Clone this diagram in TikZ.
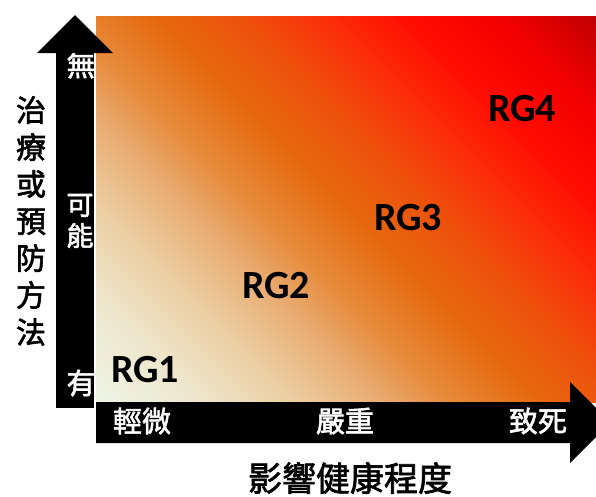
\documentclass[tikz,border=0pt]{standalone}
\usepackage{fontspec}
\setmainfont{Carlito}
\newfontfamily\cjk[FakeBold=2]{Noto Sans CJK TC}
\definecolor{g0}{HTML}{EEF4E6}
\definecolor{g1}{HTML}{EEE6CC}
\definecolor{g2}{HTML}{ECCFA4}
\definecolor{g3}{HTML}{E9AC72}
\definecolor{g4}{HTML}{E68A3A}
\definecolor{g5}{HTML}{E6680E}
\definecolor{g6}{HTML}{EE500C}
\definecolor{g7}{HTML}{FC2A08}
\definecolor{g8}{HTML}{FF0A00}
\definecolor{g9}{HTML}{F00000}
\definecolor{g10}{HTML}{C00000}
\pgfdeclarehorizontalshading{rgshade}{100bp}{color(0bp)=(g0); color(14.6bp)=(g0); color(23.1bp)=(g1); color(30.2bp)=(g2); color(37.3bp)=(g3); color(42.9bp)=(g4); color(50bp)=(g5); color(57.1bp)=(g6); color(64.2bp)=(g7); color(71.2bp)=(g8); color(78.3bp)=(g9); color(85.4bp)=(g10); color(100bp)=(g10)}
\tikzset{
  rg/.style={font=\bfseries\fontsize{40}{40}\selectfont, inner sep=0pt, text=black},
  axtxt/.style={font=\cjk\fontsize{29}{29}\selectfont, inner sep=0pt, text=white},
  axtitle/.style={font=\cjk\fontsize{34}{34}\selectfont, inner sep=0pt, text=black},
}
\begin{document}
\begin{tikzpicture}[x=1pt,y=-1pt]
\useasboundingbox (0,0) rectangle (596,496);
\clip (0,0) rectangle (596,496);
% vertical shaft and its texts
\fill[black] (56,53) rectangle (94,408);
\node[axtxt] (wu) at (81,65) {無};
\node[axtxt, align=center, font=\cjk\fontsize{27}{31}\selectfont] (keneng) at (80,221) {可\\能};
\node[axtxt] (you) at (81,383) {有};
% gradient field
\fill[shading=rgshade, shading angle=45] (96,16) rectangle (596,402);
% arrow heads
\fill[black] (37,53) -- (75,15) -- (113,53) -- cycle;
\fill[black] (96,402) -- (570,402) -- (570,382) -- (610.5,422.5) -- (570,463) -- (570,443) -- (96,443) -- cycle;
% axis texts
\node[axtxt] (qingwei) at (142,421) {輕微};
\node[axtxt] (yanzhong) at (345,421) {嚴重};
\node[axtxt] (zhisi) at (538,421) {致死};
\node[axtitle] (xtitle) at (350,478) {影響健康程度};
\node[axtitle, align=center, font=\cjk\fontsize{30}{37}\selectfont] (ytitle) at (31,221) {治\\療\\或\\預\\防\\方\\法};
% risk groups
\node[rg] (rg1) at (145,370) {RG1};
\node[rg] (rg2) at (276,286) {RG2};
\node[rg] (rg3) at (408,218) {RG3};
\node[rg] (rg4) at (522,109) {RG4};
\end{tikzpicture}
\end{document}
